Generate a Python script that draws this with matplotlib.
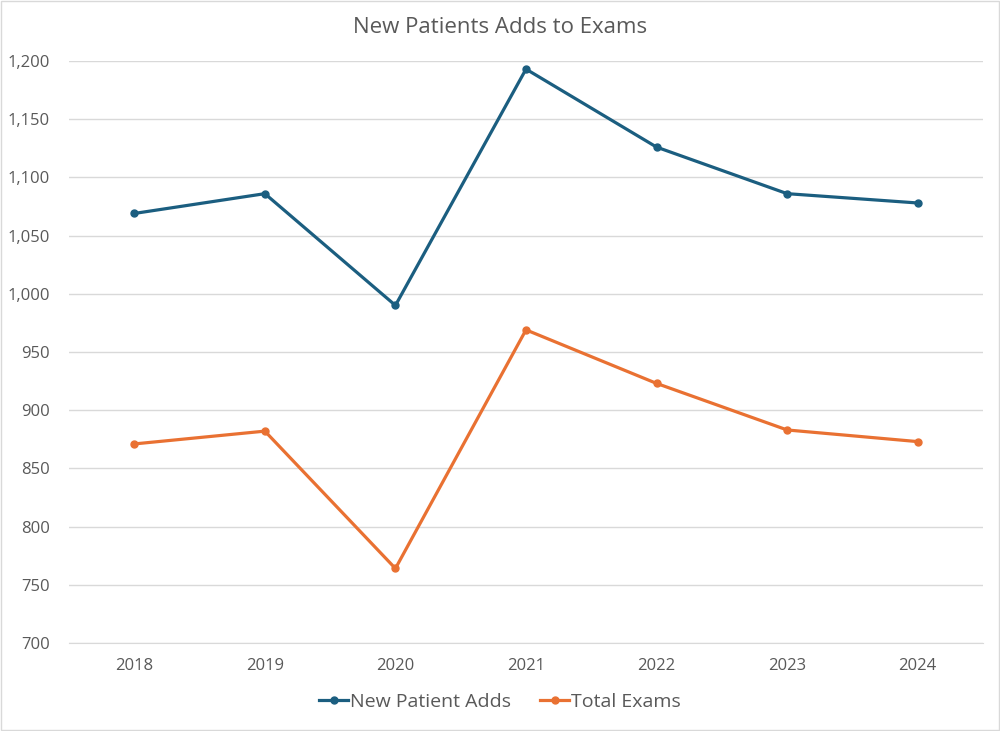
import matplotlib
matplotlib.use('Agg')
import matplotlib.pyplot as plt
from matplotlib.ticker import FuncFormatter, MultipleLocator

years = ['2018', '2019', '2020', '2021', '2022', '2023', '2024']
new_patient_adds = [1069, 1086, 990, 1193, 1126, 1086, 1078]
total_exams = [871, 882, 764, 969, 923, 883, 873]

blue = '#1B5E80'
orange = '#E97132'
grey = '#595959'

plt.rcParams['font.family'] = ['Open Sans', 'DejaVu Sans']

fig = plt.figure(figsize=(10, 7.31), dpi=100)
ax = fig.add_axes([0.069, 0.1204, 0.914, 0.7962])

x = list(range(len(years)))
ax.plot(x, new_patient_adds, color=blue, lw=2.3, marker='o', ms=5, label='New Patient Adds')
ax.plot(x, total_exams, color=orange, lw=2.3, marker='o', ms=5, label='Total Exams')

ax.set_xlim(-0.5, len(years) - 0.5)
ax.set_ylim(700, 1200)
ax.yaxis.set_major_locator(MultipleLocator(50))
ax.yaxis.set_major_formatter(FuncFormatter(lambda v, p: '{:,.0f}'.format(v)))
ax.set_xticks(x)
ax.set_xticklabels(years)

ax.grid(axis='y', color='#D9D9D9', lw=1)
ax.set_axisbelow(True)
for s in ['top', 'right', 'left']:
    ax.spines[s].set_visible(False)
ax.spines['bottom'].set_color('#D9D9D9')
ax.tick_params(axis='both', length=0, colors=grey, labelsize=12)
ax.tick_params(axis='x', pad=11)
ax.tick_params(axis='y', pad=14)

fig.text(0.5, 0.962, 'New Patients Adds to Exams', ha='center', va='center', fontsize=16, color=grey)

leg = fig.legend(loc='center', bbox_to_anchor=(0.5, 0.04), ncol=2, frameon=False,
                 fontsize=14, handlelength=1.5, handletextpad=0.1, columnspacing=1.5)
for t in leg.get_texts():
    t.set_color(grey)

# light border around whole chart
fig.patches.append(plt.Rectangle((0.001, 0.001), 0.998, 0.998, transform=fig.transFigure,
                                 fill=False, edgecolor='#D9D9D9', lw=1))

fig.savefig('out.png', dpi=100)
